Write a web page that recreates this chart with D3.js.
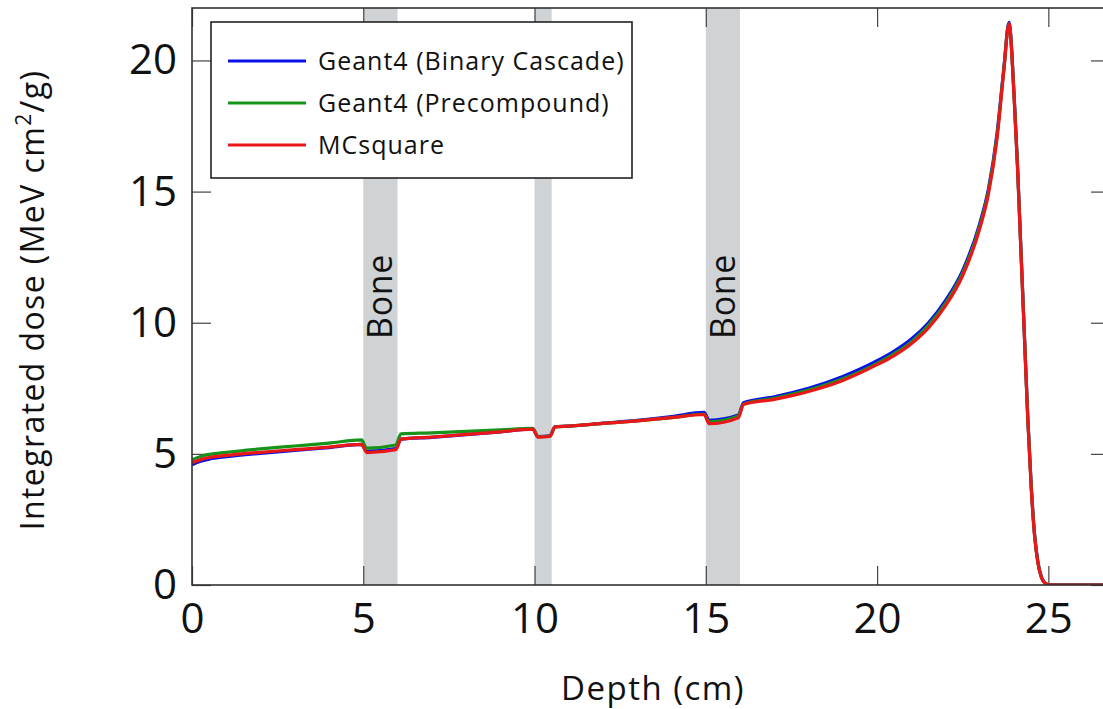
<!DOCTYPE html>
<html>
<head>
<meta charset="utf-8">
<script src="https://cdn.jsdelivr.net/npm/d3@7"></script>
<style>
  body { margin: 0; background: #fff; }
  text { font-family: "Open Sans", Lato, sans-serif; fill: #111; }
</style>
</head>
<body>
<div id="chart"></div>
<script>
// depth (cm) sampling points
const depth = [0, 0.25, 0.5, 1, 2, 3, 4, 4.95, 5.1, 5.95, 6.1, 7, 8, 9, 9.95, 10.1, 10.45, 10.6, 11, 12, 13, 14, 14.95, 15.1, 15.95, 16.1, 17, 18, 19, 20, 20.5, 21, 21.5, 22, 22.5, 23, 23.25, 23.5, 23.7, 23.85, 24.0, 24.1, 24.2, 24.3, 24.4, 24.5, 24.6, 24.7, 24.8, 24.9, 25.0, 25.5, 27];

// integrated dose per model
const binaryCascade = [4.58, 4.72, 4.80, 4.89, 5.02, 5.13, 5.24, 5.36, 5.10, 5.20, 5.56, 5.63, 5.73, 5.84, 5.95, 5.66, 5.69, 6.04, 6.06, 6.17, 6.28, 6.42, 6.58, 6.28, 6.48, 6.95, 7.18, 7.5, 7.95, 8.55, 8.92, 9.38, 10.0, 10.85, 12.0, 13.8, 15.1, 17.2, 19.7, 21.45, 18.7, 16.0, 12.8, 9.6, 6.4, 3.8, 1.9, 0.85, 0.3, 0.08, 0.02, 0.01, 0.01];
const precompound = [4.77, 4.9, 4.98, 5.06, 5.19, 5.3, 5.41, 5.53, 5.22, 5.34, 5.76, 5.8, 5.86, 5.92, 5.97, 5.65, 5.68, 6.03, 6.06, 6.16, 6.26, 6.38, 6.52, 6.22, 6.44, 6.9, 7.12, 7.43, 7.86, 8.45, 8.82, 9.27, 9.9, 10.75, 11.9, 13.7, 15.0, 17.1, 19.65, 21.4, 18.65, 15.95, 12.75, 9.55, 6.35, 3.75, 1.87, 0.82, 0.29, 0.07, 0.01, 0, 0];
const mcsquare = [4.66, 4.78, 4.86, 4.94, 5.06, 5.16, 5.26, 5.36, 5.05, 5.16, 5.56, 5.64, 5.74, 5.84, 5.94, 5.64, 5.67, 6.03, 6.06, 6.16, 6.26, 6.38, 6.50, 6.15, 6.38, 6.88, 7.08, 7.38, 7.8, 8.4, 8.75, 9.2, 9.8, 10.65, 11.8, 13.6, 14.9, 17.0, 19.6, 21.4, 18.6, 15.9, 12.7, 9.5, 6.3, 3.7, 1.85, 0.8, 0.28, 0.07, 0.01, 0, 0];

const seriesNames = ['Geant4 (Binary Cascade)', 'Geant4 (Precompound)', 'MCsquare'];
const seriesColors = ['#0a10e8', '#16941a', '#e81818'];

// bone slabs [start, end] and which get a label
const boneStart = [5, 10, 15];
const boneEnd = [6, 10.5, 16];
const boneLabel = ['Bone', '', 'Bone'];

const xTicks = [0, 5, 10, 15, 20, 25];
const yTicks = [0, 5, 10, 15, 20];

const width = 1103, height = 709;
const margin = { top: 8, left: 192, bottom: 124 };
const plotRight = 1110;

const svg = d3.select('#chart').append('svg')
  .attr('width', width)
  .attr('height', height);

const x = d3.scaleLinear().domain([0, 26.8]).range([margin.left, plotRight]);
const y = d3.scaleLinear().domain([0, 22]).range([height - margin.bottom, margin.top]);

svg.append('defs').append('clipPath').attr('id', 'plotclip')
  .append('rect')
  .attr('x', x(0)).attr('y', y(22))
  .attr('width', x(26.8) - x(0)).attr('height', y(0) - y(22));

// bone bands
const bands = svg.append('g');
bands.selectAll('rect')
  .data(boneStart)
  .join('rect')
  .attr('x', (d) => x(d))
  .attr('y', y(22))
  .attr('width', (d, i) => x(boneEnd[i]) - x(d))
  .attr('height', y(0) - y(22))
  .attr('fill', '#d0d3d6');

bands.selectAll('text')
  .data(boneStart)
  .join('text')
  .text((d, i) => boneLabel[i])
  .attr('transform', (d, i) => `translate(${x((d + boneEnd[i]) / 2) + 12},${y(11.0)}) rotate(-90)`)
  .attr('text-anchor', 'middle')
  .style('font-size', '34px')
  .style('letter-spacing', '0.6px');

// axes with inward ticks on all four sides
const tickLen = 19;
const axisColor = '#444';

const xAxis = svg.append('g')
  .attr('transform', `translate(0,${y(0)})`)
  .call(d3.axisBottom(x).tickValues(xTicks).tickSize(-tickLen).tickPadding(18));
const xTop = svg.append('g')
  .attr('transform', `translate(0,${y(22)})`)
  .call(d3.axisTop(x).tickValues(xTicks).tickSize(-tickLen).tickFormat(''));
const yAxis = svg.append('g')
  .attr('transform', `translate(${x(0)},0)`)
  .call(d3.axisLeft(y).tickValues(yTicks).tickSize(-tickLen).tickPadding(15));
const yRight = svg.append('g')
  .attr('transform', `translate(${plotRight},0)`)
  .call(d3.axisRight(y).tickValues(yTicks).tickSize(-tickLen).tickFormat(''));

[xAxis, xTop, yAxis, yRight].forEach((g) => {
  g.select('.domain').remove();
  g.selectAll('.tick line').attr('stroke', axisColor).attr('stroke-width', 1.2);
  g.selectAll('.tick text')
    .style('font-family', '"Open Sans", sans-serif')
    .style('font-size', '42px')
    .attr('fill', '#111');
});

// curves
const allSeries = [binaryCascade, precompound, mcsquare];
const line = d3.line()
  .x((d, i) => x(depth[i]))
  .y((d) => y(d))
  .curve(d3.curveMonotoneX);

svg.append('g')
  .attr('clip-path', 'url(#plotclip)')
  .selectAll('path')
  .data(allSeries)
  .join('path')
  .attr('d', (d) => line(d))
  .attr('fill', 'none')
  .attr('stroke', (d, i) => seriesColors[i])
  .attr('stroke-width', 3.2)
  .attr('stroke-linejoin', 'round');

// frame
svg.append('rect')
  .attr('x', x(0)).attr('y', y(22))
  .attr('width', plotRight - x(0)).attr('height', y(0) - y(22))
  .attr('fill', 'none')
  .attr('stroke', '#333')
  .attr('stroke-width', 1.6);

// legend
const legend = svg.append('g');
legend.append('rect')
  .attr('x', 211).attr('y', 22)
  .attr('width', 421).attr('height', 156)
  .attr('fill', '#fff')
  .attr('stroke', '#222')
  .attr('stroke-width', 1.6);

const rows = legend.selectAll('g')
  .data(seriesNames)
  .join('g')
  .attr('transform', (d, i) => `translate(228,${61 + i * 42})`);
rows.append('line')
  .attr('x1', 0).attr('x2', 78)
  .attr('stroke', (d, i) => seriesColors[i])
  .attr('stroke-width', 3.2);
rows.append('text')
  .attr('x', 90)
  .attr('dy', '0.35em')
  .text((d) => d)
  .style('font-size', '25px')
  .style('letter-spacing', '1px');

// axis titles
svg.append('text')
  .attr('x', (x(0) + plotRight) / 2 + 2)
  .attr('y', 700)
  .attr('text-anchor', 'middle')
  .style('font-size', '33px')
  .style('letter-spacing', '1.5px')
  .text('Depth (cm)');

const yTitle = svg.append('text')
  .attr('transform', `translate(44,300) rotate(-90)`)
  .attr('text-anchor', 'middle')
  .style('font-size', '32px')
  .style('letter-spacing', '1.4px');
yTitle.append('tspan').text('Integrated dose (MeV cm');
yTitle.append('tspan').attr('dy', -13).style('font-size', '21px').text('2');
yTitle.append('tspan').attr('dy', 13).text('/g)');
</script>
</body>
</html>
